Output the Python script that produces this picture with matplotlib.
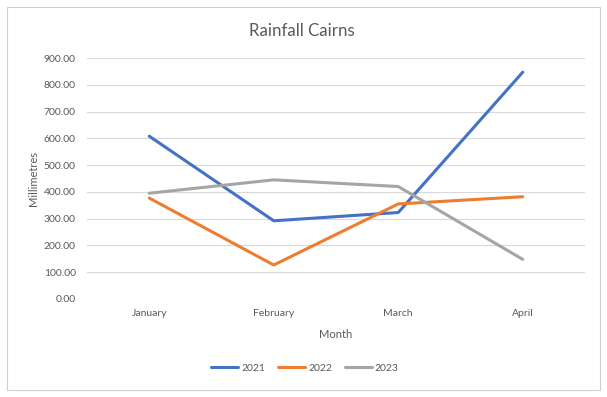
import matplotlib.pyplot as plt
from matplotlib.patches import Rectangle

months = ["January", "February", "March", "April"]
rain_2021 = [608, 292, 323, 847]
rain_2022 = [377, 127, 355, 382]
rain_2023 = [395, 445, 420, 148]
y_ticks = [0, 100, 200, 300, 400, 500, 600, 700, 800, 900]

plt.rcParams['font.family'] = ['Lato', 'DejaVu Sans']

fig = plt.figure(figsize=(6.07, 3.97), dpi=100)
W, H = 607, 397
ax = fig.add_axes([87 / W, 1 - 299 / H, (585 - 87) / W, (299 - 58) / H])

# chart border
fig.patches.append(Rectangle((7 / W, 1 - 390 / H), 593 / W, 383 / H,
                             transform=fig.transFigure, fill=False,
                             edgecolor="#d0d0d0", linewidth=0.8))

x = range(len(months))
ax.plot(x, rain_2021, color="#4472C4", lw=2.2, label="2021", solid_capstyle="round")
ax.plot(x, rain_2022, color="#ED7D31", lw=2.2, label="2022", solid_capstyle="round")
ax.plot(x, rain_2023, color="#A5A5A5", lw=2.2, label="2023", solid_capstyle="round")

ax.set_xlim(-0.5, 3.5)
ax.set_ylim(0, 900)
ax.set_yticks(y_ticks)
ax.set_yticklabels(["{:.2f}".format(v) for v in y_ticks])
ax.set_xticks(list(x))
ax.set_xticklabels(months)
ax.grid(axis="y", color="#d9d9d9", lw=0.8)
ax.set_axisbelow(True)
for s in ax.spines.values():
    s.set_visible(False)
ax.tick_params(length=0, labelsize=7.5, colors="#595959", pad=8)
ax.tick_params(axis="x", pad=7.5)

fig.text(302 / W, 1 - 31 / H, "Rainfall Cairns", ha="center", va="center",
         fontsize=12.2, color="#595959")
fig.text(33 / W, 1 - 178 / H, "Millimetres", rotation=90, ha="center", va="center",
         fontsize=8, color="#595959")
fig.text(336 / W, 1 - 334 / H, "Month", ha="center", va="center",
         fontsize=8, color="#595959")

fig.legend(loc="center", bbox_to_anchor=(305 / W, 1 - 368 / H), ncol=3,
           frameon=False, fontsize=7.5, labelcolor="#595959", handlelength=2.6,
           columnspacing=1.2, handletextpad=0.3)

fig.savefig("out.png", dpi=100)
